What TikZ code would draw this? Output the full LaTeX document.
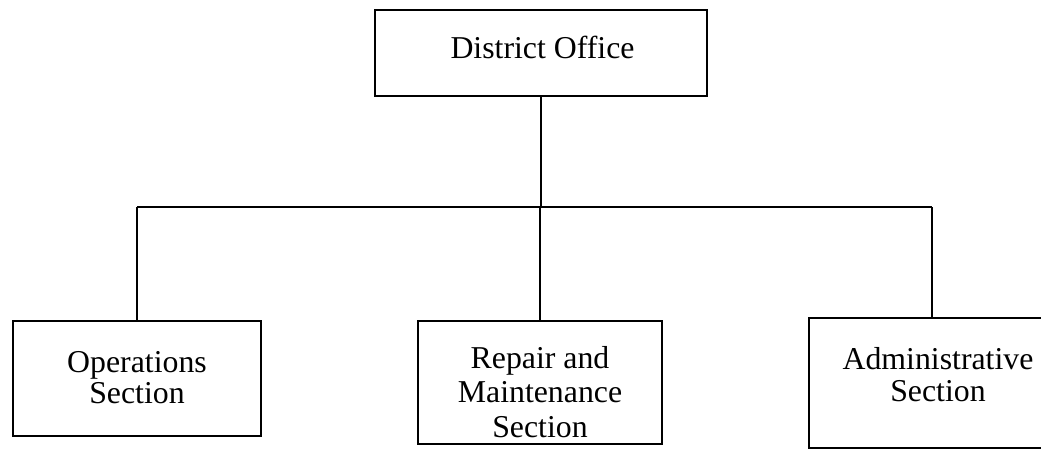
\documentclass[tikz,border=0pt]{standalone}
\usepackage{fontspec}
\setmainfont{Liberation Serif}
\begin{document}
\begin{tikzpicture}[x=1pt,y=-1pt,
  box/.style={draw=black,line width=1.5pt,inner sep=0pt,fill=none},
  lbl/.style={font=\fontsize{31.8}{33}\selectfont,align=center,inner sep=0pt},
  link/.style={draw=black,line width=1.5pt}]
\useasboundingbox (0,0) rectangle (1041,448);
\clip (0,0) rectangle (1041,448);
\node[box,minimum width=332pt,minimum height=86pt] (top) at (541,53) {};
\node[box,minimum width=248pt,minimum height=115pt] (ops) at (137,378.5) {};
\node[box,minimum width=244pt,minimum height=123pt] (rep) at (540,382.5) {};
\node[box,minimum width=246pt,minimum height=130pt] (adm) at (932,383) {};
\node[lbl,anchor=base] (toptxt) at (542.5,58) {District Office};
\node[lbl,font=\fontsize{31.8}{31}\selectfont] (opstxt) at (137,378) {Operations\\Section};
\node[lbl,font=\fontsize{31.8}{34.5}\selectfont] (reptxt) at (540,392) {Repair and\\Maintenance\\Section};
\node[lbl,font=\fontsize{31.8}{32}\selectfont] (admtxt) at (938,375) {Administrative\\Section};
\coordinate (bus) at (0,207);
\draw[link] (top.south) -- (top.south |- bus);
\draw[link] (ops.north |- bus) -- (adm.north |- bus);
\draw[link] (ops.north |- bus) -- (ops.north);
\draw[link] (rep.north |- bus) -- (rep.north);
\draw[link] (adm.north |- bus) -- (adm.north);
\end{tikzpicture}
\end{document}
